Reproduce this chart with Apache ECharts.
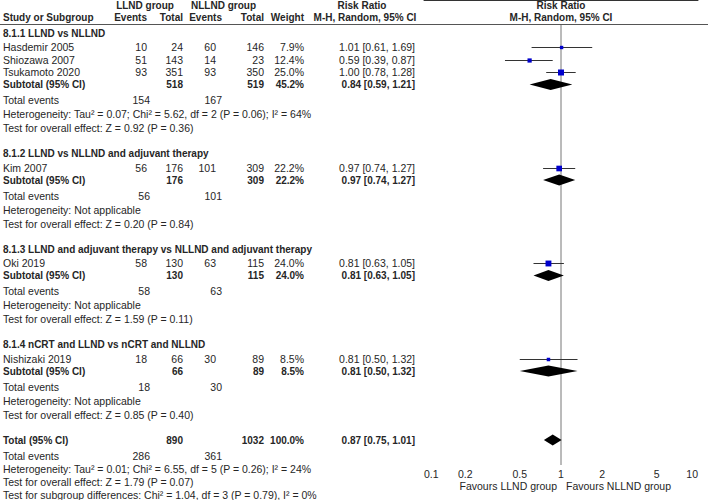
<!DOCTYPE html>
<html><head><meta charset="utf-8">
<script src="https://cdn.jsdelivr.net/npm/echarts@6/dist/echarts.min.js"></script>
<style>html,body{margin:0;padding:0;background:#fff}#c{width:708px;height:500px}</style>
</head><body><div id="c"></div>
<script>
// ---------- data ----------
const studyNames = ['Hasdemir 2005', 'Shiozawa 2007', 'Tsukamoto 2020', 'Kim 2007', 'Oki 2019', 'Nishizaki 2019'];
const studyGroup = [0, 0, 0, 1, 2, 3];
const llndEvents = [10, 51, 93, 56, 58, 18];
const llndTotal = [24, 143, 351, 176, 130, 66];
const nllndEvents = [60, 14, 93, 101, 63, 30];
const nllndTotal = [146, 23, 350, 309, 115, 89];
const weights = [7.9, 12.4, 25.0, 22.2, 24.0, 8.5];
const rr = [1.01, 0.59, 1.00, 0.97, 0.81, 0.81];
const rrLo = [0.61, 0.39, 0.78, 0.74, 0.63, 0.50];
const rrHi = [1.69, 0.87, 1.28, 1.27, 1.05, 1.32];

const groupTitles = ['8.1.1 LLND vs NLLND', '8.1.2 LLND vs NLLND and adjuvant therapy',
  '8.1.3 LLND and adjuvant therapy vs NLLND and adjuvant therapy', '8.1.4 nCRT and LLND vs nCRT and NLLND'];
const subLlndTotal = [518, 176, 130, 66];
const subNllndTotal = [519, 309, 115, 89];
const subWeight = [45.2, 22.2, 24.0, 8.5];
const subRR = [0.84, 0.97, 0.81, 0.81];
const subLo = [0.59, 0.74, 0.63, 0.50];
const subHi = [1.21, 1.27, 1.05, 1.32];
const subEventsLlnd = [154, 56, 58, 18];
const subEventsNllnd = [167, 101, 63, 30];
const subHet = ['Heterogeneity: Tau² = 0.07; Chi² = 5.62, df = 2 (P = 0.06); I² = 64%',
  'Heterogeneity: Not applicable', 'Heterogeneity: Not applicable', 'Heterogeneity: Not applicable'];
const subTest = ['Test for overall effect: Z = 0.92 (P = 0.36)', 'Test for overall effect: Z = 0.20 (P = 0.84)',
  'Test for overall effect: Z = 1.59 (P = 0.11)', 'Test for overall effect: Z = 0.85 (P = 0.40)'];

const totalLabel = 'Total (95% CI)';
const totalLlnd = 890, totalNllnd = 1032, totalWeight = 100.0;
const totalRR = 0.87, totalLo = 0.75, totalHi = 1.01;
const totalEventsLlnd = 286, totalEventsNllnd = 361;
const totalNotes = ['Heterogeneity: Tau² = 0.01; Chi² = 6.55, df = 5 (P = 0.26); I² = 24%',
  'Test for overall effect: Z = 1.79 (P = 0.07)',
  'Test for subgroup differences: Chi² = 1.04, df = 3 (P = 0.79), I² = 0%'];

const tickValues = [0.1, 0.2, 0.5, 1, 2, 5, 10];
const tickLabels = ['0.1', '0.2', '0.5', '1', '2', '5', '10'];
const favoursLeft = 'Favours LLND group';
const favoursRight = 'Favours NLLND group';

// ---------- layout ----------
const FONT = '"Liberation Sans", Arial, sans-serif';
const FS = 10.5, FSB = 10;
const TXT = '#262626';
const COL = { name: 3, ev1: 147, tot1: 183, ev2: 216, tot2: 264, w: 304, rr: 415, te1: 150, te2: 222 };
const STEP = { titleToStudy: 14, study: 12.5, subToEvents: 15.5, line: 14, toNext: 25.5, totalLine: 13 };
const AXIS_Y = 465, HEADER_LINE_Y = 24;

const graphics = [];
function txt(str, x, y, align, bold) {
  graphics.push({ type: 'text', x: x, y: y, silent: true, z: 10,
    style: { text: String(str), fill: TXT, font: (bold ? 'bold ' + FSB : FS) + 'px ' + FONT,
      align: align || 'left', verticalAlign: 'middle' } });
}
const fmtRR = (e, l, h) => e.toFixed(2) + ' [' + l.toFixed(2) + ', ' + h.toFixed(2) + ']';
const fmtW = w => w.toFixed(1) + '%';

// headers
txt('LLND group', (118 + 172) / 2, 5, 'center', true);
txt('NLLND group', (192 + 255) / 2, 5, 'center', true);
txt('Risk Ratio', 362, 5, 'center', true);
txt('Risk Ratio', 561, 5, 'center', true);
txt('Study or Subgroup', COL.name, 17, 'left', true);
txt('Events', COL.ev1, 17, 'right', true);
txt('Total', COL.tot1, 17, 'right', true);
txt('Events', COL.te2, 17, 'right', true);
txt('Total', COL.tot2, 17, 'right', true);
txt('Weight', COL.w, 17, 'right', true);
txt('M-H, Random, 95% CI', 365, 17, 'center', true);
txt('M-H, Random, 95% CI', 561, 17, 'center', true);
graphics.push({ type: 'line', silent: true, shape: { x1: 0, y1: HEADER_LINE_Y + 0.5, x2: 708, y2: HEADER_LINE_Y + 0.5 },
  style: { stroke: '#555', lineWidth: 1 } });

const studyY = [], subY = [];
let y = 33;
for (let g = 0; g < groupTitles.length; g++) {
  txt(groupTitles[g], COL.name, y, 'left', true);
  y += STEP.titleToStudy;
  let first = true;
  for (let i = 0; i < studyNames.length; i++) {
    if (studyGroup[i] !== g) continue;
    if (!first) y += STEP.study;
    first = false;
    studyY[i] = y;
    txt(studyNames[i], COL.name, y, 'left');
    txt(llndEvents[i], COL.ev1, y, 'right');
    txt(llndTotal[i], COL.tot1, y, 'right');
    txt(nllndEvents[i], COL.ev2, y, 'right');
    txt(nllndTotal[i], COL.tot2, y, 'right');
    txt(fmtW(weights[i]), COL.w, y, 'right');
    txt(fmtRR(rr[i], rrLo[i], rrHi[i]), COL.rr, y, 'right');
  }
  y += STEP.study;
  subY[g] = y;
  txt('Subtotal (95% CI)', COL.name, y, 'left', true);
  txt(subLlndTotal[g], COL.tot1, y, 'right', true);
  txt(subNllndTotal[g], COL.tot2, y, 'right', true);
  txt(fmtW(subWeight[g]), COL.w, y, 'right', true);
  txt(fmtRR(subRR[g], subLo[g], subHi[g]), COL.rr, y, 'right', true);
  y += STEP.subToEvents;
  txt('Total events', COL.name, y, 'left');
  txt(subEventsLlnd[g], COL.te1, y, 'right');
  txt(subEventsNllnd[g], COL.te2, y, 'right');
  y += STEP.line;
  txt(subHet[g], COL.name, y, 'left');
  y += STEP.line;
  txt(subTest[g], COL.name, y, 'left');
  y += STEP.toNext;
}
const totalY = y;
txt(totalLabel, COL.name, y, 'left', true);
txt(totalLlnd, COL.tot1, y, 'right', true);
txt(totalNllnd, COL.tot2, y, 'right', true);
txt(fmtW(totalWeight), COL.w, y, 'right', true);
txt(fmtRR(totalRR, totalLo, totalHi), COL.rr, y, 'right', true);
y += STEP.subToEvents;
txt('Total events', COL.name, y, 'left');
txt(totalEventsLlnd, COL.te1, y, 'right');
txt(totalEventsNllnd, COL.te2, y, 'right');
for (const n of totalNotes) { y += STEP.totalLine; txt(n, COL.name, y, 'left'); }

txt(favoursLeft, 557, 486, 'right');
txt(favoursRight, 566, 486, 'left');

// ---------- series data ----------
const L = Math.log10;
const studyData = studyNames.map((_, i) => [L(rr[i]), studyY[i], L(rrLo[i]), L(rrHi[i]), weights[i]]);
const diamondData = subRR.map((v, g) => [L(v), subY[g], L(subLo[g]), L(subHi[g])]);
diamondData.push([L(totalRR), totalY, L(totalLo), L(totalHi)]);

const chart = echarts.init(document.getElementById('c'), null, { renderer: 'svg' });
chart.setOption({
  animation: false,
  backgroundColor: '#fff',
  grid: { left: 424, right: 10, top: 0, bottom: 500 - AXIS_Y },
  xAxis: {
    type: 'value', min: -1, max: 1,
    axisLine: { lineStyle: { color: '#333', width: 1 } },
    axisTick: { show: true, inside: true, length: 4, lineStyle: { color: '#333' }, customValues: tickValues.map(L) },
    axisLabel: {
      customValues: tickValues.map(L), margin: 3, fontSize: FS, fontFamily: FONT, color: TXT,
      alignMinLabel: 'left', alignMaxLabel: 'right',
      formatter: v => { let best = 0; tickValues.forEach((t, k) => { if (Math.abs(L(t) - v) < Math.abs(L(tickValues[best]) - v)) best = k; }); return tickLabels[best]; }
    },
    splitLine: { show: false }
  },
  yAxis: { type: 'value', min: 0, max: AXIS_Y, inverse: true, show: false },
  series: [
    { type: 'line', data: [[0, HEADER_LINE_Y + 1], [0, AXIS_Y]], symbol: 'none', silent: true, z: 1,
      lineStyle: { color: '#777', width: 1 } },
    { type: 'custom', z: 3, silent: true, data: studyData,
      renderItem: (params, api) => {
        const c = api.coord([api.value(0), api.value(1)]);
        const lo = api.coord([api.value(2), api.value(1)]);
        const hi = api.coord([api.value(3), api.value(1)]);
        const s = Math.sqrt(api.value(4)) * 1.2;
        const yy = Math.round(c[1]) + 0.5;
        return { type: 'group', children: [
          { type: 'line', shape: { x1: lo[0], y1: yy, x2: hi[0], y2: yy }, style: { stroke: '#333', lineWidth: 1 } },
          { type: 'rect', shape: { x: c[0] - s / 2, y: yy - s / 2, width: s, height: s }, style: { fill: '#0000cc' } }
        ] };
      } },
    { type: 'custom', z: 3, silent: true, data: diamondData,
      renderItem: (params, api) => {
        const c = api.coord([api.value(0), api.value(1)]);
        const lo = api.coord([api.value(2), api.value(1)]);
        const hi = api.coord([api.value(3), api.value(1)]);
        const h = 5.5;
        return { type: 'polygon', shape: { points: [[lo[0], c[1]], [c[0], c[1] - h], [hi[0], c[1]], [c[0], c[1] + h]] },
          style: { fill: '#000' } };
      } }
  ],
  graphic: graphics
});
</script></body></html>
